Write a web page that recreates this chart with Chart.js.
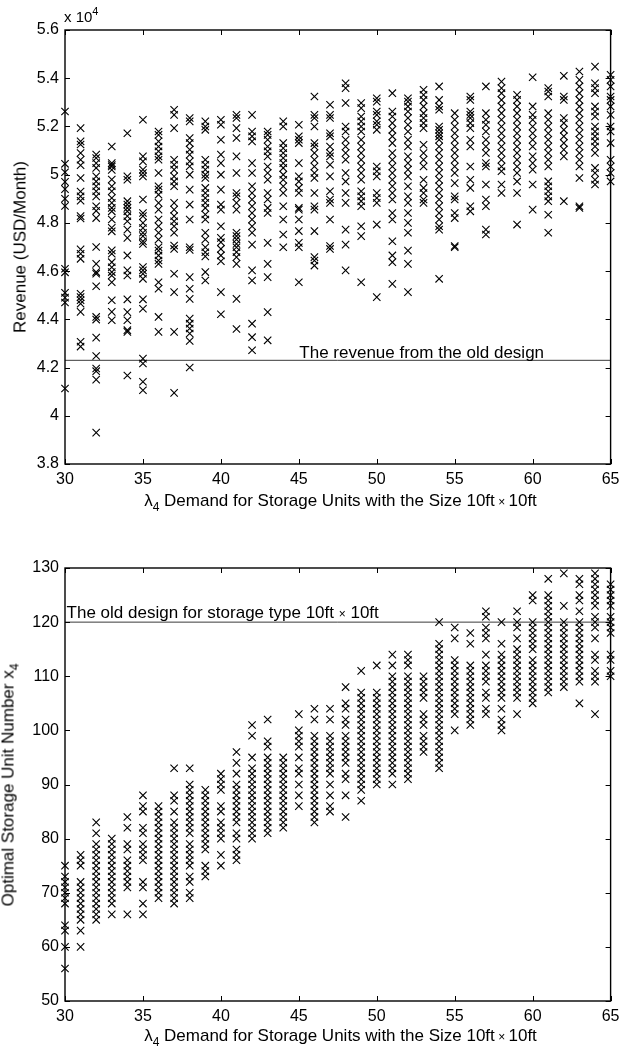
<!DOCTYPE html>
<html>
<head>
<meta charset="utf-8">
<title>Storage unit demand study</title>
<script src="https://cdn.jsdelivr.net/npm/chart.js@4.4.1/dist/chart.umd.min.js"></script>
<style>
  html, body { margin: 0; padding: 0; background: #fff; }
  body { width: 625px; height: 1054px; position: relative; overflow: hidden;
         font-family: "Liberation Sans", Arial, Helvetica, sans-serif; color: #000; }
  canvas { position: absolute; left: 0; }
  #revenueChart { top: 0; }
  #unitsChart { top: 535px; }
  .txt { position: absolute; white-space: nowrap; font-size: 17px; line-height: 17px; }
  .xtitle { left: 340.5px; transform: translateX(-50%); }
  .ytitle { transform: translate(-50%, -50%) rotate(-90deg); }
  .small-times { font-size: 12px; }
  sub { font-size: 12px; vertical-align: -5px; line-height: 0; }
  sup { font-size: 11px; vertical-align: 7px; line-height: 0; }
</style>
</head>
<body>
<canvas id="revenueChart" width="625" height="520"></canvas>
<canvas id="unitsChart" width="625" height="519"></canvas>

<div class="txt" style="left:64px; top:9px; font-size:15px; line-height:15px;">x 10<sup>4</sup></div>
<div class="txt ytitle" style="left:20px; top:247px;">Revenue (USD/Month)</div>
<div class="txt xtitle" style="top:491.5px;">&lambda;<sub>4</sub> Demand for Storage Units with the Size 10ft<span class="small-times"> &times; </span>10ft</div>

<div class="txt ytitle" style="left:8px; top:784.5px;">Optimal Storage Unit Number x<sub>4</sub></div>
<div class="txt xtitle" style="top:1026.5px;">&lambda;<sub>4</sub> Demand for Storage Units with the Size 10ft<span class="small-times"> &times; </span>10ft</div>

<script>
// Demand levels (units / month) for the 10ft x 10ft storage type
const demand = [30, 31, 32, 33, 34, 35, 36, 37, 38, 39, 40, 41, 42, 43, 44, 45, 46, 47,
                48, 49, 50, 51, 52, 53, 54, 55, 56, 57, 58, 59, 60, 61, 62, 63, 64, 65];

// Monthly revenue (USD) of the optimised design, one list of scenarios per demand level
const revenueSamples = [
  [52620, 50450, 50100, 49700, 49400, 49000, 48700, 46100, 45950, 45100, 44900, 44700, 41130],
  [51930, 51380, 51250, 50900, 50620, 50390, 49860, 49300, 49100, 48920, 48280, 48180, 46900, 46720, 46510, 45060, 44920, 44790, 44650, 44310, 43070, 42870],
  [50830, 50690, 50480, 50280, 49930, 49720, 49520, 49310, 49100, 48690, 48500, 48200, 47000, 46300, 45960, 45890, 45370, 44100, 43990, 43240, 42480, 41960, 41850, 41500, 39300],
  [51170, 50480, 50400, 50340, 50200, 49800, 49520, 49310, 49030, 48830, 48620, 48480, 48140, 47800, 47650, 46860, 46720, 46370, 46160, 45960, 45820, 45540, 44790, 44310, 43960],
  [51720, 49930, 49790, 48900, 48760, 48620, 48480, 48280, 48070, 47720, 47380, 46650, 46030, 45820, 44830, 44300, 43960, 43550, 43480, 41670],
  [52280, 50760, 50550, 50210, 50070, 49930, 48970, 48410, 48280, 48000, 47790, 47590, 47450, 47240, 47130, 46170, 46030, 45890, 45680, 44830, 44440, 42370, 42170, 41410, 41060],
  [51790, 51650, 51380, 51170, 50970, 50760, 50620, 50070, 49520, 49380, 49170, 48830, 48550, 48140, 47860, 47590, 47310, 46990, 46850, 46650, 46440, 46300, 45540, 45270, 44100, 43480],
  [52690, 52480, 51930, 50620, 50410, 50210, 49930, 49720, 49520, 48830, 48550, 48280, 48070, 47860, 47590, 47060, 46920, 45890, 45130, 43480, 40950],
  [52350, 52210, 51520, 51310, 51040, 50830, 50550, 50350, 50000, 49380, 48760, 48140, 46990, 46880, 45750, 45270, 44850, 44030, 43820, 43620, 43410, 43100, 42000],
  [52210, 52000, 51860, 50620, 50410, 50210, 50000, 49860, 49450, 49240, 49030, 48830, 48620, 48350, 48140, 47590, 47310, 46990, 46780, 46610, 45960, 45610],
  [52280, 52070, 51450, 50830, 50480, 50000, 49380, 48760, 48550, 47860, 47380, 47200, 46920, 46650, 46410, 45130, 44210],
  [52480, 52350, 51930, 51520, 50760, 50070, 49240, 49100, 48830, 48550, 47590, 47450, 47310, 47130, 46990, 46790, 46580, 46300, 44850, 43600],
  [52480, 51790, 51590, 51380, 50480, 50070, 49520, 49240, 48970, 48690, 48410, 48140, 47860, 47590, 47100, 46030, 45610, 43820, 43260, 42720],
  [51790, 51650, 51450, 51170, 50970, 50760, 50340, 50070, 49790, 49240, 48970, 48620, 48410, 47170, 46300, 45750, 44300, 43130],
  [52210, 52000, 51310, 51100, 50900, 50690, 50480, 50280, 50000, 49790, 49520, 49240, 48690, 48140, 47520, 46990],
  [52070, 51590, 51450, 51310, 50480, 49930, 49720, 49450, 49240, 48620, 48550, 48140, 47660, 47170, 46990, 45540],
  [53240, 52480, 52350, 52000, 51310, 51170, 50900, 50620, 50340, 50070, 49860, 49240, 48690, 48550, 47660, 46580, 46440, 46230],
  [52900, 52480, 52350, 51720, 51590, 51170, 50900, 50760, 50410, 49930, 49310, 48970, 48830, 48140, 47040, 46920],
  [53790, 53590, 52970, 52000, 51790, 51450, 51170, 50900, 50620, 50070, 49720, 49240, 48830, 47720, 47100, 46030],
  [52970, 52760, 52410, 52210, 52000, 51790, 51450, 51170, 50900, 50620, 50340, 50070, 49790, 49310, 49100, 48900, 48690, 47860, 47450, 45540],
  [53170, 53030, 52620, 52480, 52210, 52070, 51860, 50340, 50140, 49930, 49240, 49030, 48830, 47930, 44920],
  [53380, 52620, 52410, 52140, 51860, 51590, 51310, 50900, 50620, 50340, 50070, 49790, 49520, 49240, 48970, 48410, 48140, 47240, 46650, 46370, 45470],
  [53170, 53030, 52830, 52620, 52350, 52070, 51790, 51450, 51170, 50760, 50480, 50210, 49930, 49520, 49100, 48830, 48410, 48000, 47590, 46850, 46300, 45130],
  [53520, 53310, 53100, 52830, 52550, 52350, 52140, 51930, 51240, 50900, 50620, 50340, 49790, 49450, 49240, 48970, 48830],
  [53660, 53100, 52830, 52690, 52000, 51860, 51720, 51590, 51450, 51170, 50900, 50620, 50340, 50070, 49790, 49520, 49240, 48970, 48690, 48410, 48140, 47860, 47720, 45680],
  [52550, 52280, 52000, 51720, 51450, 51170, 50900, 50620, 50340, 50070, 49650, 49100, 48970, 48410, 48200, 47040, 46990],
  [53240, 53100, 52620, 52480, 52350, 52140, 51930, 51450, 51170, 50340, 49790, 49450, 48690, 48480],
  [53660, 52550, 52280, 52070, 51790, 51450, 51170, 50900, 50480, 50340, 49590, 48970, 48690, 47720, 47520],
  [53860, 53590, 53380, 53100, 52830, 52550, 52280, 52000, 51720, 51450, 51170, 50900, 50620, 50340, 50140, 49590, 49240],
  [53310, 53100, 52830, 52550, 52280, 52000, 51720, 51450, 51170, 50900, 50620, 50340, 50070, 49720, 49240, 47930],
  [54040, 52830, 52480, 52280, 52000, 51720, 51450, 51170, 50760, 50480, 50210, 49590, 48550],
  [53590, 53450, 53240, 52550, 52280, 52000, 51720, 51450, 51170, 50900, 50620, 50340, 49720, 49520, 49310, 49100, 48900, 48340, 47590],
  [54100, 53240, 53100, 52350, 52140, 51860, 51590, 51310, 51040, 50760, 48900],
  [54280, 53930, 53660, 53380, 53100, 52830, 52550, 52280, 52000, 51720, 51450, 51170, 50900, 50620, 50340, 49860, 48690, 48620],
  [54480, 53790, 53590, 53380, 52830, 52620, 52410, 52000, 51790, 51590, 51380, 51170, 50900, 50280, 50070, 49790, 49590],
  [54140, 53930, 53660, 53240, 53100, 52830, 52480, 52000, 51790, 51310, 50620, 50340, 50070, 49720]
];

// Optimal number of 10ft x 10ft units, one list of scenarios per demand level
const unitSamples = [
  [75, 73, 72, 71, 70, 69, 68, 64, 63, 60, 56],
  [77, 76, 75, 72, 71, 70, 69, 68, 67, 66, 65, 63, 60],
  [83, 81, 79, 78, 77, 76, 75, 74, 73, 72, 71, 70, 69, 68, 67, 66, 65],
  [80, 79, 78, 77, 76, 75, 74, 73, 72, 71, 70, 69, 68, 66],
  [84, 82, 79, 78, 76, 75, 74, 73, 72, 71, 66],
  [88, 86, 85, 82, 81, 79, 78, 77, 76, 72, 71, 68, 66],
  [86, 85, 84, 83, 82, 81, 80, 79, 78, 77, 76, 75, 74, 73, 72, 71, 70, 69],
  [93, 88, 87, 85, 83, 82, 81, 80, 79, 78, 77, 76, 75, 74, 73, 72, 71, 70, 69, 68],
  [93, 90, 89, 88, 87, 86, 85, 84, 83, 82, 81, 79, 78, 77, 76, 75, 73, 72, 70, 69],
  [89, 88, 87, 86, 85, 84, 83, 82, 81, 80, 79, 78, 75, 74, 73],
  [92, 91, 90, 89, 86, 85, 83, 82, 81, 80, 77, 75],
  [96, 94, 92, 90, 89, 88, 87, 86, 85, 84, 83, 81, 80, 78, 77, 76],
  [101, 99, 95, 93, 92, 91, 90, 89, 88, 87, 86, 85, 84, 83, 82, 81, 80],
  [102, 98, 97, 95, 94, 93, 92, 91, 90, 89, 88, 87, 86, 85, 84, 83, 82, 81],
  [95, 94, 93, 92, 91, 90, 89, 88, 87, 86, 85, 84, 83, 82],
  [103, 100, 99, 98, 97, 95, 93, 92, 90, 88, 86],
  [104, 102, 99, 98, 97, 96, 95, 94, 93, 92, 91, 90, 89, 88, 87, 86, 85, 84, 83],
  [104, 102, 99, 98, 97, 96, 95, 94, 93, 92, 90, 88, 86, 85],
  [108, 105, 104, 102, 101, 99, 98, 97, 96, 95, 94, 92, 91, 88, 84],
  [111, 107, 106, 105, 104, 103, 102, 101, 100, 99, 98, 97, 96, 95, 94, 93, 92, 91, 90, 89, 87],
  [112, 107, 106, 105, 104, 103, 102, 101, 100, 99, 98, 97, 96, 95, 94, 93, 92, 91, 90],
  [114, 112, 110, 109, 108, 107, 106, 105, 104, 103, 102, 101, 100, 99, 98, 97, 96, 95, 94, 93, 92, 90],
  [114, 113, 112, 110, 109, 108, 107, 106, 105, 104, 103, 102, 101, 100, 99, 98, 97, 96, 95, 94, 93, 92, 91],
  [110, 109, 108, 107, 106, 103, 102, 101, 99, 98, 97, 96],
  [120, 116, 115, 114, 113, 112, 111, 110, 109, 108, 107, 106, 105, 104, 103, 102, 101, 100, 99, 98, 97, 96, 95, 94, 93],
  [119, 117, 113, 112, 111, 110, 109, 108, 107, 106, 105, 104, 103, 100],
  [118, 116, 112, 111, 110, 109, 108, 107, 106, 105, 104, 103, 102, 101],
  [122, 121, 119, 118, 117, 114, 112, 111, 110, 109, 107, 106, 104, 103],
  [120, 116, 114, 113, 112, 111, 110, 109, 108, 107, 106, 104, 102, 101, 100],
  [122, 120, 119, 117, 115, 114, 113, 112, 111, 110, 109, 108, 107, 106, 103],
  [125, 124, 120, 119, 118, 117, 116, 115, 113, 112, 111, 110, 109, 108, 107, 106, 105],
  [128, 125, 124, 123, 122, 121, 120, 119, 118, 117, 116, 115, 114, 113, 112, 111, 110, 109, 108, 107],
  [129, 123, 120, 119, 118, 117, 116, 115, 114, 113, 112, 111, 110, 109, 108],
  [128, 127, 125, 124, 122, 120, 119, 118, 117, 116, 115, 114, 113, 112, 111, 110, 109, 105],
  [129, 128, 127, 126, 125, 124, 123, 121, 120, 119, 117, 114, 113, 111, 110, 109, 103],
  [127, 126, 125, 124, 123, 121, 120, 119, 118, 114, 113, 111, 110]
];

// Reference values of the old design
const oldDesignRevenue = 42300;
const oldDesignUnits = 120;

// Tick positions
const demandTicks = [30, 35, 40, 45, 50, 55, 60, 65];
const revenueTicks = [38000, 40000, 42000, 44000, 46000, 48000, 50000, 52000, 54000, 56000];
const unitTicks = [50, 60, 70, 80, 90, 100, 110, 120, 130];

Chart.defaults.font.family = '"Liberation Sans", Arial, Helvetica, sans-serif';
Chart.defaults.font.size = 16;
Chart.defaults.color = '#000';

function toPoints(xs, samples) {
  const pts = [];
  xs.forEach((x, i) => samples[i].forEach(v => pts.push({ x: x, y: v })));
  return pts;
}

// MATLAB-style box: frame on all four sides with inward tick marks, plus a text note
const boxAxes = {
  id: 'boxAxes',
  afterDatasetsDraw(chart, args, opts) {
    const { ctx, chartArea: a } = chart;
    const xs = chart.scales.x, ys = chart.scales.y;
    const L = 5;
    ctx.save();
    ctx.strokeStyle = '#000';
    ctx.lineWidth = 1;
    ctx.beginPath();
    xs.ticks.forEach(t => {
      const px = Math.round(xs.getPixelForValue(t.value)) + 0.5;
      ctx.moveTo(px, a.bottom); ctx.lineTo(px, a.bottom - L);
      ctx.moveTo(px, a.top); ctx.lineTo(px, a.top + L);
    });
    ys.ticks.forEach(t => {
      const py = Math.round(ys.getPixelForValue(t.value)) + 0.5;
      ctx.moveTo(a.left, py); ctx.lineTo(a.left + L, py);
      ctx.moveTo(a.right, py); ctx.lineTo(a.right - L, py);
    });
    ctx.stroke();
    ctx.lineWidth = 1.4;
    ctx.strokeRect(a.left, a.top, a.right - a.left, a.bottom - a.top);

    if (opts.note) {
      const n = opts.note;
      let px = xs.getPixelForValue(n.x);
      const py = ys.getPixelForValue(n.y) + n.dy;
      ctx.fillStyle = '#000';
      ctx.textBaseline = 'alphabetic';
      ctx.textAlign = 'left';
      n.parts.forEach(p => {
        ctx.font = (p.size || 17) + 'px "Liberation Sans", Arial, sans-serif';
        ctx.fillText(p.text, px, py);
        px += ctx.measureText(p.text).width;
      });
    }
    ctx.restore();
  }
};

function makeOptions(yMin, yMax, yTicks, yFormat, note, xHeight) {
  return {
    responsive: false,
    devicePixelRatio: 1,
    animation: false,
    events: [],
    layout: { padding: { left: 0, right: 9, top: note.top, bottom: 0 } },
    plugins: { legend: { display: false }, tooltip: { enabled: false }, boxAxes: { note: note } },
    scales: {
      x: {
        type: 'linear', min: 30, max: 65,
        grid: { display: false, drawTicks: false },
        border: { display: false },
        afterBuildTicks: s => { s.ticks = demandTicks.map(v => ({ value: v })); },
        afterFit: s => { s.height = xHeight; },
        ticks: { padding: 5.5, autoSkip: false, maxRotation: 0, callback: v => String(v) }
      },
      y: {
        type: 'linear', min: yMin, max: yMax,
        grid: { display: false, drawTicks: false },
        border: { display: false },
        afterBuildTicks: s => { s.ticks = yTicks.map(v => ({ value: v })); },
        afterFit: s => { s.width = 65; },
        ticks: { padding: 6, autoSkip: false, callback: yFormat }
      }
    }
  };
}

const markerStyle = {
  pointStyle: 'crossRot',
  pointRadius: 5.2,
  pointBorderColor: '#000',
  pointBorderWidth: 1.1,
  pointBackgroundColor: 'rgba(0,0,0,0)',
  showLine: false,
  clip: false
};

new Chart(document.getElementById('revenueChart'), {
  type: 'scatter',
  data: {
    datasets: [
      Object.assign({ label: 'Revenue', data: toPoints(demand, revenueSamples) }, markerStyle),
      {
        label: 'Old design revenue',
        data: [{ x: 30, y: oldDesignRevenue }, { x: 65, y: oldDesignRevenue }],
        showLine: true, pointRadius: 0, borderColor: '#3a3a3a', borderWidth: 1
      }
    ]
  },
  options: makeOptions(38000, 56000, revenueTicks,
    v => String(+(v / 10000).toFixed(1)),
    { top: 30, x: 45.03, y: oldDesignRevenue, dy: -2,
      parts: [{ text: 'The revenue from the old design' }] },
    56),
  plugins: [boxAxes]
});

new Chart(document.getElementById('unitsChart'), {
  type: 'scatter',
  data: {
    datasets: [
      Object.assign({ label: 'Optimal units', data: toPoints(demand, unitSamples) }, markerStyle),
      {
        label: 'Old design units',
        data: [{ x: 30, y: oldDesignUnits }, { x: 65, y: oldDesignUnits }],
        showLine: true, pointRadius: 0, borderColor: '#3a3a3a', borderWidth: 1
      }
    ]
  },
  options: makeOptions(50, 130, unitTicks,
    v => String(v),
    { top: 33, x: 30.1, y: oldDesignUnits, dy: -4,
      parts: [{ text: 'The old design for storage type 10ft ' }, { text: '\u00d7', size: 12 }, { text: ' 10ft' }] },
    53),
  plugins: [boxAxes]
});
</script>
</body>
</html>
